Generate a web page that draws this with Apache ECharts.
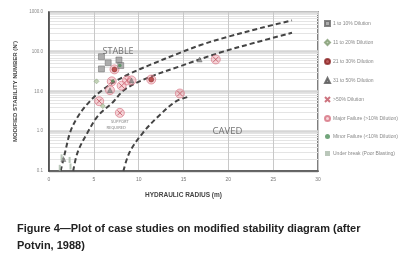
<!DOCTYPE html>
<html><head><meta charset="utf-8">
<script src="https://cdn.jsdelivr.net/npm/echarts@6/dist/echarts.min.js"></script>
<style>html,body{margin:0;padding:0;background:#fff}#c{width:410px;height:280px}</style>
</head><body><div id="c"></div>
<script>
// ---- data (hydraulic radius m, modified stability number N') ----
const xTicks = [0, 5, 10, 15, 20, 25, 30];
const yTicks = [0.1, 1, 10, 100, 1000];
const legendNames = ['1 to 10% Dilution','11 to 20% Dilution','21 to 30% Dilution','31 to 50% Dilution','>50% Dilution','Major Failure (>10% Dilution)','Minor Failure (<10% Dilution)','Under break (Poor Blasting)'];
const dil1to10 = [[5.85,75],[6.6,53],[5.85,37],[7.8,62],[8.0,45]];
const dil11to20 = [[5.3,18],[6.0,4.3]];
const dil21to30 = [[7.3,36],[11.4,20]];
const dil31to50 = [[16.8,64],[6.8,10.8],[9.2,19],[1.6,0.2]];
const dilOver50 = [[7.0,18],[8.1,14],[8.7,19],[14.6,8.9],[18.6,64],[5.6,5.7],[7.9,2.9]];
const majorFailure = [[7.3,36],[7.0,18],[6.8,10.8],[8.1,14],[8.7,19],[9.2,19],[11.4,20],[14.6,8.9],[5.6,5.7],[18.6,64],[7.9,2.9]];
const minorFailure = [[7.9,45],[7.1,18.5]];
const underBreak = [[1.4,0.22],[2.3,0.19],[1.2,0.12],[2.4,0.13]];
const curveStable = [[1.3,0.1],[1.8,0.3],[2.4,1],[3.3,2.5],[4.5,5.5],[5.5,9],[7,16],[9,28],[11.4,48],[14.6,94],[17,150],[20,240],[23.5,390],[27.1,615]];
const curveTransition = [[2.7,0.1],[3.2,0.3],[4.3,0.93],[5.5,2.5],[7.1,5.3],[8.4,11],[11,22],[14.6,43],[19,94],[23,170],[27.1,300]];
const curveCaved = [[8.3,0.1],[9,0.3],[10.5,0.93],[12.3,2.5],[14.2,5.7],[15.7,7.5]];
const zoneLabels = [
  {name:'STABLE', value:[7.7,100], size:9},
  {name:'CAVED', value:[19.9,1], size:9.5},
  {name:'SUPPORT', value:[7.9,1.7], size:4},
  {name:'REQUIRED', value:[7.5,1.24], size:4}
];
const caption = 'Figure 4\u2014Plot of case studies on modified stability diagram (after\nPotvin, 1988)';

const chart = echarts.init(document.getElementById('c'), null, {renderer:'canvas'});
const dash = {type:'line', smooth:0.35, symbol:'none', silent:true,
  lineStyle:{color:'#444', width:2, type:[5,3]}, z:3};
const xSym = 'path://M0,0L10,10M10,0L0,10';
chart.setOption({
  backgroundColor:'#fff',
  animation:false,
  grid:{left:49, right:92, top:12, bottom:109, show:true, borderColor:'#555', borderWidth:1.5, backgroundColor:'#fff'},
  xAxis:{type:'value', min:0, max:30, interval:5,
    axisLine:{lineStyle:{color:'#444', width:1.5}}, axisTick:{show:false},
    axisLabel:{fontSize:5, color:'#777', margin:6, fontFamily:'Liberation Sans'},
    splitLine:{lineStyle:{color:'#c8c8c8', width:1}},
    name:'HYDRAULIC RADIUS (m)', nameLocation:'middle', nameGap:21,
    nameTextStyle:{fontSize:6.5, fontWeight:'bold', color:'#444', fontFamily:'Liberation Sans'}},
  yAxis:{type:'log', logBase:10, min:0.1, max:1000,
    axisLine:{lineStyle:{color:'#444', width:1.5}}, axisTick:{show:false},
    axisLabel:{fontSize:4.5, color:'#888', margin:6, fontFamily:'Liberation Sans', formatter:v=>Number(v).toFixed(1)},
    splitLine:{lineStyle:{color:'#d6d6d6', width:2.5}},
    minorTick:{show:false, splitNumber:9},
    minorSplitLine:{show:true, lineStyle:{color:'#e4e4e4', width:1}},
    name:"MODIFIED STABILITY NUMBER (N')", nameLocation:'middle', nameGap:31,
    nameTextStyle:{fontSize:6, fontWeight:'bold', color:'#444', fontFamily:'Liberation Sans'}},
  legend:{orient:'vertical', left:324, top:20, padding:0, itemWidth:5, itemHeight:5, itemGap:12, data:legendNames,
    textStyle:{fontSize:5, color:'#888', fontFamily:'Liberation Sans', padding:[0,0,0,-2]}, selectedMode:false},
  graphic:[{type:'text', left:17, top:220, style:{text:caption, font:'bold 11px "Liberation Sans"', fill:'#222', lineHeight:17}}],
  series:[
    Object.assign({name:'curveStable', data:curveStable}, dash),
    Object.assign({name:'curveTransition', data:curveTransition}, dash),
    Object.assign({name:'curveCaved', data:curveCaved}, dash),
    {name:legendNames[5], type:'scatter', data:majorFailure, symbol:'circle', symbolSize:9,
      itemStyle:{color:'rgba(235,150,160,0.5)', borderColor:'#d67080', borderWidth:0.8}, z:4},
    {name:legendNames[0], type:'scatter', data:dil1to10, symbol:'rect', symbolSize:6,
      itemStyle:{color:'#9a9a9a', borderColor:'#666', borderWidth:0.6}, z:5},
    {name:legendNames[1], type:'scatter', data:dil11to20, symbol:'diamond', symbolSize:5,
      itemStyle:{color:'#b5c9a8', borderColor:'#7f9a70', borderWidth:0.6}, z:5},
    {name:legendNames[2], type:'scatter', data:dil21to30, symbol:'circle', symbolSize:5,
      itemStyle:{color:'#a33', borderColor:'#822', borderWidth:0.6}, z:5},
    {name:legendNames[3], type:'scatter', data:dil31to50, symbol:'triangle', symbolSize:5,
      itemStyle:{color:'#888', borderColor:'#555', borderWidth:0.5}, z:5},
    {name:legendNames[4], type:'scatter', data:dilOver50, symbol:xSym, symbolSize:5,
      itemStyle:{color:'#c0505e', borderColor:'#c0505e', borderWidth:1}, z:5},
    {name:legendNames[6], type:'scatter', data:minorFailure, symbol:'circle', symbolSize:3.5,
      itemStyle:{color:'#4f8f5a'}, z:6},
    {name:legendNames[7], type:'scatter', data:underBreak, symbol:'rect', symbolSize:[2,6],
      itemStyle:{color:'#a9b9a9'}, z:5},
    {name:'zones', type:'scatter', silent:true, symbolSize:0, data:zoneLabels.map(d=>({name:d.name, value:d.value,
      label:{show:true, position:'inside', formatter:'{b}', fontSize:d.size, color:'#555', fontFamily:'Open Sans'}})), z:7}
  ]
});
</script></body></html>
